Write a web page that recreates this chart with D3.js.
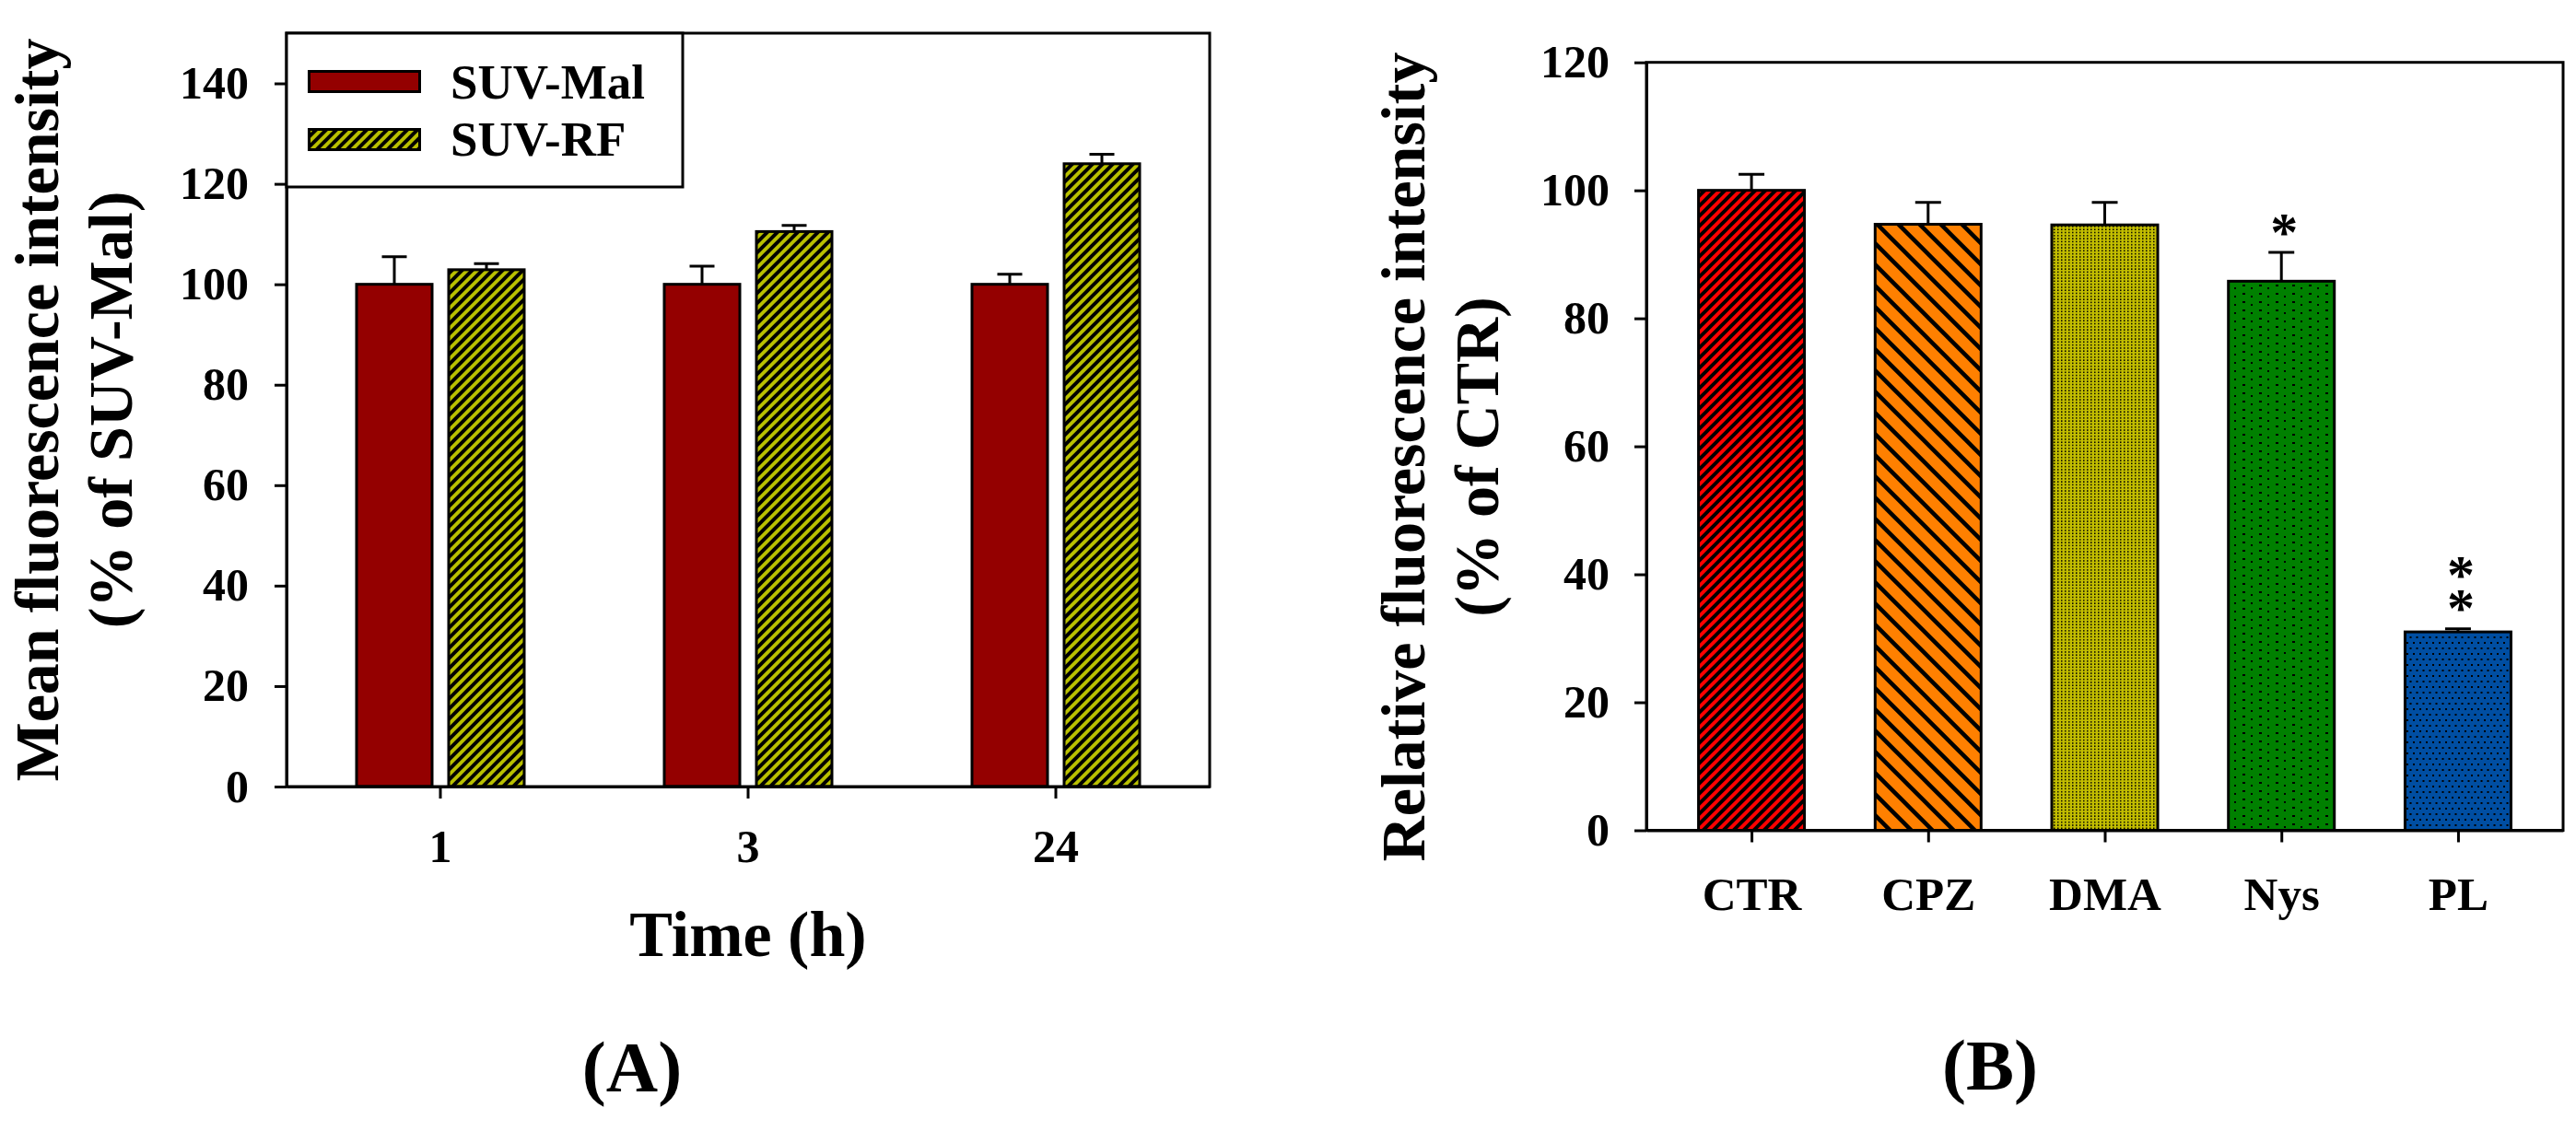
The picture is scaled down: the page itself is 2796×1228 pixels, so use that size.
<!DOCTYPE html>
<html>
<head>
<meta charset="utf-8">
<script src="https://cdn.jsdelivr.net/npm/d3@7"></script>
<style>
  body { margin: 0; background: #fff; }
  text { font-family: "Liberation Serif", "Times New Roman", serif; font-weight: bold; fill: #000; }
  .stars { writing-mode: vertical-rl; text-orientation: upright; }
</style>
</head>
<body>
<div id="chart"></div>
<script>
// panel A data: fluorescence over time
const timesA = ["1", "3", "24"];
const seriesA = ["SUV-Mal", "SUV-RF"];
const malValues = [100, 100, 100];
const malErrors = [5.5, 3.6, 2.0];
const rfValues = [102.9, 110.5, 124.0];
const rfErrors = [1.2, 1.2, 1.9];
const ticksA = [0, 20, 40, 60, 80, 100, 120, 140];

// panel B data: inhibitors
const groupsB = ["CTR", "CPZ", "DMA", "Nys", "PL"];
const valuesB = [100, 94.7, 94.6, 85.8, 31.0];
const errorsB = [2.5, 3.4, 3.5, 4.5, 0.5];
const starsB = ["", "", "", "*", "**"];
const ticksB = [0, 20, 40, 60, 80, 100, 120];

const font = '"Liberation Serif", "Times New Roman", serif';

let svg = d3.select("#chart")
    .append("svg")
    .attr("width", 2796)
    .attr("height", 1228)
    .style("background", "#fff");

let defs = svg.append("defs");

// diagonal hatch pattern
function hatch(id, bg, s, dir, sw) {
    let p = defs.append("pattern")
        .attr("id", id)
        .attr("patternUnits", "userSpaceOnUse")
        .attr("width", s)
        .attr("height", s);
    p.append("rect").attr("width", s).attr("height", s).attr("fill", bg);
    let d = dir === "/"
        ? `M0,${s} L${s},0 M${-s / 2},${s / 2} L${s / 2},${-s / 2} M${s / 2},${s * 1.5} L${s * 1.5},${s / 2}`
        : `M0,0 L${s},${s} M${-s / 2},${s / 2} L${s / 2},${s * 1.5} M${s / 2},${-s / 2} L${s * 1.5},${s / 2}`;
    p.append("path").attr("d", d).attr("stroke", "#000").attr("stroke-width", sw).attr("fill", "none");
}

// dotted pattern
function dots(id, bg, w, h, pts, size) {
    let p = defs.append("pattern")
        .attr("id", id)
        .attr("patternUnits", "userSpaceOnUse")
        .attr("width", w)
        .attr("height", h);
    p.append("rect").attr("width", w).attr("height", h).attr("fill", bg);
    pts.forEach(pt => {
        p.append("rect")
            .attr("x", pt[0]).attr("y", pt[1])
            .attr("width", pt[2] || size).attr("height", pt[3] || size)
            .attr("fill", "#000");
    });
}

hatch("hRF", "#b9c000", 11, "/", 4);
hatch("hCTR", "#ff0000", 11, "/", 4);
hatch("hCPZ", "#ff8000", 23, "\\", 4.5);
dots("dDMA", "#c2bd00", 4, 3.3, [[1, 1]], 1.5);
dots("dNys", "#008000", 18, 9, [[4, 3, 3, 2], [13, 6, 2, 2]], 2);
dots("dPL", "#004ea2", 7, 12, [[1, 1], [4.5, 7]], 2);

const fillA = { "SUV-Mal": "#940000", "SUV-RF": "url(#hRF)" };
const fillB = ["url(#hCTR)", "url(#hCPZ)", "url(#dDMA)", "url(#dNys)", "url(#dPL)"];

function styleAxis(g, size) {
    g.selectAll(".domain").attr("stroke", "#000").attr("stroke-width", 3);
    g.selectAll(".tick line").attr("stroke", "#000").attr("stroke-width", 3);
    g.selectAll(".tick text")
        .style("font-family", font)
        .style("font-weight", "bold")
        .style("font-size", size + "px")
        .attr("fill", "#000");
}

// ---------------- panel A ----------------
let pa = { left: 311, right: 1313, top: 36, bottom: 854 };

let x0 = d3.scaleBand().domain(timesA).range([pa.left, pa.right]);
let x1 = d3.scaleBand()
    .domain(seriesA)
    .range([x0.bandwidth() / 2 - 100, x0.bandwidth() / 2 + 100])
    .paddingInner(0.18)
    .paddingOuter(0.09);
let yA = d3.scaleLinear().domain([0, 150]).range([pa.bottom, pa.top]);

let rowsA = timesA.map((t, i) => ({
    t: t,
    vals: [
        { s: "SUV-Mal", v: malValues[i], e: malErrors[i] },
        { s: "SUV-RF", v: rfValues[i], e: rfErrors[i] }
    ]
}));

let gA = svg.append("g");

let groupA = gA.selectAll("g.grp")
    .data(rowsA)
    .join("g")
    .attr("class", "grp")
    .attr("transform", d => `translate(${x0(d.t)},0)`);

groupA.selectAll("rect")
    .data(d => d.vals)
    .join("rect")
    .attr("x", d => x1(d.s))
    .attr("y", d => yA(d.v))
    .attr("width", x1.bandwidth())
    .attr("height", d => yA(0) - yA(d.v))
    .attr("fill", d => fillA[d.s])
    .attr("stroke", "#000")
    .attr("stroke-width", 3);

groupA.selectAll("path.err")
    .data(d => d.vals)
    .join("path")
    .attr("class", "err")
    .attr("d", d => {
        let cx = x1(d.s) + x1.bandwidth() / 2;
        return `M${cx},${yA(d.v)} V${yA(d.v + d.e)} M${cx - 13.5},${yA(d.v + d.e)} H${cx + 13.5}`;
    })
    .attr("stroke", "#000")
    .attr("stroke-width", 3)
    .attr("fill", "none");

gA.append("rect")
    .attr("x", pa.left).attr("y", pa.top)
    .attr("width", pa.right - pa.left).attr("height", pa.bottom - pa.top)
    .attr("fill", "none").attr("stroke", "#000").attr("stroke-width", 3);

let yAxisA = gA.append("g")
    .attr("transform", `translate(${pa.left},0)`)
    .call(d3.axisLeft(yA).tickValues(ticksA).tickSize(13).tickSizeOuter(0).tickPadding(28));
styleAxis(yAxisA, 50);

let xAxisA = gA.append("g")
    .attr("transform", `translate(0,${pa.bottom})`)
    .call(d3.axisBottom(x0).tickSize(13).tickSizeOuter(0).tickPadding(33));
styleAxis(xAxisA, 50);

// legend
let legA = gA.append("g");
legA.append("rect")
    .attr("x", pa.left).attr("y", pa.top)
    .attr("width", 430).attr("height", 167)
    .attr("fill", "#fff").attr("stroke", "#000").attr("stroke-width", 3);
seriesA.forEach((s, i) => {
    legA.append("rect")
        .attr("x", 335.5).attr("y", 77.5 + i * 63)
        .attr("width", 120).attr("height", 22)
        .attr("fill", fillA[s]).attr("stroke", "#000").attr("stroke-width", 3);
    legA.append("text")
        .attr("x", 489).attr("y", 107 + i * 62)
        .style("font-size", "53px")
        .text(s);
});

let titleA = gA.append("g").attr("transform", "translate(63,445) rotate(-90)");
titleA.append("text").attr("text-anchor", "middle").style("font-size", "68px")
    .text("Mean fluorescence intensity");
titleA.append("text").attr("text-anchor", "middle").attr("y", 80).style("font-size", "68px")
    .text("(% of SUV-Mal)");

gA.append("text")
    .attr("x", (pa.left + pa.right) / 2).attr("y", 1038)
    .attr("text-anchor", "middle").style("font-size", "70px")
    .text("Time (h)");

gA.append("text")
    .attr("x", 686).attr("y", 1185)
    .attr("text-anchor", "middle").style("font-size", "78px")
    .text("(A)");

// ---------------- panel B ----------------
let pb = { left: 1787, right: 2782, top: 67.7, bottom: 901.5 };

let xB = d3.scalePoint().domain(groupsB).range([pb.left, pb.right]).padding(0.595);
let yB = d3.scaleLinear().domain([0, 120]).range([pb.bottom, pb.top]);
const barW = 115;

let rowsB = groupsB.map((g, i) => ({ g: g, v: valuesB[i], e: errorsB[i], s: starsB[i], f: fillB[i] }));

let gB = svg.append("g");

gB.selectAll("rect.bar")
    .data(rowsB)
    .join("rect")
    .attr("class", "bar")
    .attr("x", d => xB(d.g) - barW / 2)
    .attr("y", d => yB(d.v))
    .attr("width", barW)
    .attr("height", d => yB(0) - yB(d.v))
    .attr("fill", d => d.f)
    .attr("stroke", "#000")
    .attr("stroke-width", 3);

gB.selectAll("path.err")
    .data(rowsB)
    .join("path")
    .attr("class", "err")
    .attr("d", d => {
        let cx = xB(d.g);
        return `M${cx},${yB(d.v)} V${yB(d.v + d.e)} M${cx - 14},${yB(d.v + d.e)} H${cx + 14}`;
    })
    .attr("stroke", "#000")
    .attr("stroke-width", 3)
    .attr("fill", "none");

// significance stars: one vertical text per bar, stacked glyphs
const starGap = 36;
let starText = gB.selectAll("text.stars")
    .data(rowsB.filter(d => d.s.length > 0))
    .join("text")
    .attr("class", "stars")
    .attr("x", d => xB(d.g) + 3)
    .attr("y", d => yB(d.v + d.e) - 30 - (d.s.length - 1) * starGap)
    .style("font-size", "60px")
    .text(d => d.s);

// shift so the glyph centres land where wanted
starText.each(function (d) {
    let node = this;
    let n = d.s.length;
    if (n > 1) {
        let adv = node.getSubStringLength(0, 1);
        d3.select(node).style("letter-spacing", (starGap - adv) + "px");
    }
    let bb = node.getBBox();
    let glyphH = bb.height / n;
    let want = yB(d.v + d.e) - 30 - (n - 1) * starGap;
    // glyph visual centre sits near the upper part of its em box
    let firstCentre = bb.y + glyphH * 0.0 + 60 * 0.42;
    d3.select(node).attr("y", +d3.select(node).attr("y") + (want - firstCentre));
});

gB.append("rect")
    .attr("x", pb.left).attr("y", pb.top)
    .attr("width", pb.right - pb.left).attr("height", pb.bottom - pb.top)
    .attr("fill", "none").attr("stroke", "#000").attr("stroke-width", 3);

let yAxisB = gB.append("g")
    .attr("transform", `translate(${pb.left},0)`)
    .call(d3.axisLeft(yB).tickValues(ticksB).tickSize(13).tickSizeOuter(0).tickPadding(27));
styleAxis(yAxisB, 50);

let xAxisB = gB.append("g")
    .attr("transform", `translate(0,${pb.bottom})`)
    .call(d3.axisBottom(xB).tickSize(13).tickSizeOuter(0).tickPadding(37));
styleAxis(xAxisB, 51);

let titleB = gB.append("g").attr("transform", "translate(1546,496) rotate(-90)");
titleB.append("text").attr("text-anchor", "middle").style("font-size", "68px")
    .text("Relative fluorescence intensity");
titleB.append("text").attr("text-anchor", "middle").attr("y", 80).style("font-size", "68px")
    .text("(% of CTR)");

gB.append("text")
    .attr("x", 2160).attr("y", 1183)
    .attr("text-anchor", "middle").style("font-size", "78px")
    .text("(B)");
</script>
</body>
</html>
